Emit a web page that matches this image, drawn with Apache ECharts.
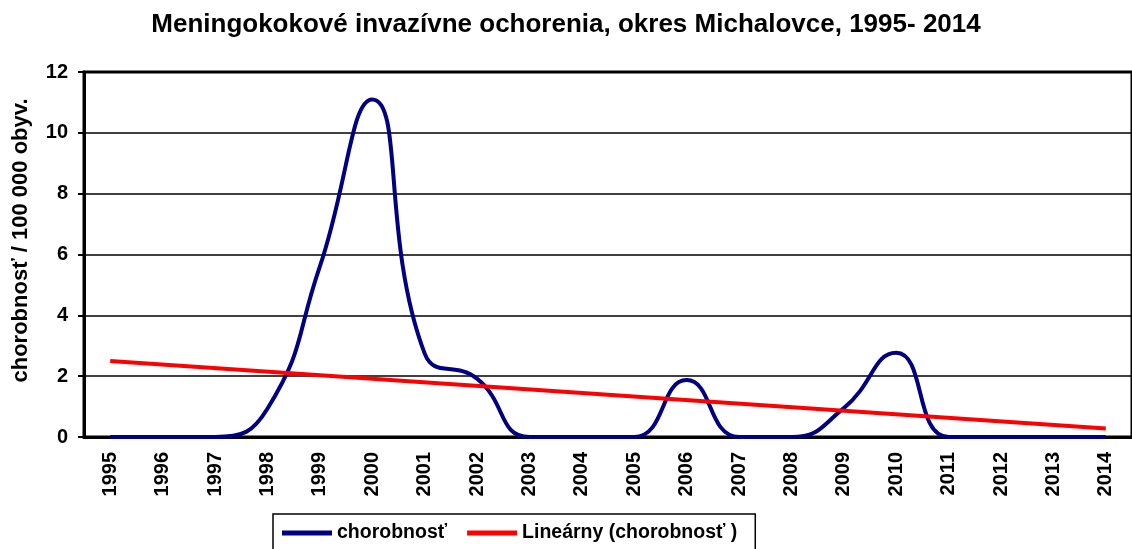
<!DOCTYPE html>
<html>
<head>
<meta charset="utf-8">
<script src="https://cdn.jsdelivr.net/npm/echarts@6/dist/echarts.min.js"></script>
<style>
  html, body { margin: 0; padding: 0; background: #fff; }
  #chart { width: 1132px; height: 549px; }
</style>
</head>
<body>
<div id="chart"></div>
<script>
// roky a chorobnosť na 100 000 obyv.
const years = ['1995', '1996', '1997', '1998', '1999', '2000', '2001', '2002', '2003', '2004',
               '2005', '2006', '2007', '2008', '2009', '2010', '2011', '2012', '2013', '2014'];
const incidence = [0, 0, 0, 0.93, 5.6, 11.1, 2.75, 1.92, 0, 0,
                   0, 1.87, 0, 0, 0.95, 2.77, 0, 0, 0, 0];
// lineárny trend - koncové body odčítané z grafu
const trendStart = 2.5;
const trendEnd = 0.28;

const font = 'Liberation Sans, Arial, sans-serif';
const chart = echarts.init(document.getElementById('chart'));

const option = {
  animation: false,
  title: {
    text: 'Meningokokové invazívne ochorenia, okres Michalovce, 1995- 2014',
    left: 'center',
    top: 7,
    textStyle: { fontFamily: font, fontSize: 26, fontWeight: 'bold', color: '#000' }
  },
  grid: {
    left: 84, right: 0, top: 72, bottom: 112,
    show: true,
    borderColor: '#000',
    borderWidth: 3
  },
  legend: {
    top: 514,
    left: 273,
    padding: [9, 18, 30, 9],
    borderColor: '#000',
    borderWidth: 1.5,
    itemWidth: 50,
    itemHeight: 5,
    itemGap: 20,
    textStyle: { fontFamily: font, fontSize: 19.5, fontWeight: 'bold', color: '#000' },
    data: [
      { name: 'chorobnosť', icon: 'rect' },
      { name: 'Lineárny (chorobnosť )', icon: 'rect' }
    ]
  },
  xAxis: {
    type: 'category',
    data: years,
    boundaryGap: true,
    axisLine: { lineStyle: { color: '#000', width: 3 } },
    axisTick: { length: 6, lineStyle: { color: '#000', width: 2 } },
    axisLabel: {
      rotate: 90,
      margin: 15,
      interval: 0,
      fontFamily: font,
      fontSize: 20,
      fontWeight: 'bold',
      color: '#000'
    },
    splitLine: { show: false }
  },
  yAxis: {
    type: 'value',
    min: 0,
    max: 12,
    interval: 2,
    name: 'chorobnosť / 100 000 obyv.',
    nameLocation: 'middle',
    nameGap: 52,
    nameTextStyle: {
      fontFamily: font, fontSize: 22, fontWeight: 'bold', color: '#000',
      padding: [0, 0, 0, 28]
    },
    axisLine: { show: true, lineStyle: { color: '#000', width: 3 } },
    axisTick: { show: true, length: 6, lineStyle: { color: '#000', width: 2 } },
    axisLabel: {
      margin: 16,
      fontFamily: font,
      fontSize: 20,
      fontWeight: 'bold',
      color: '#000'
    },
    splitLine: { lineStyle: { color: '#000', width: 1.5 } }
  },
  series: [
    {
      name: 'chorobnosť',
      type: 'line',
      data: incidence,
      smooth: 0.5,
      showSymbol: false,
      itemStyle: { color: '#000080' },
      lineStyle: { color: '#000080', width: 4 }
    },
    {
      name: 'Lineárny (chorobnosť )',
      type: 'line',
      data: [[years[0], trendStart], [years[years.length - 1], trendEnd]],
      showSymbol: false,
      itemStyle: { color: '#ff0000' },
      lineStyle: { color: '#ff0000', width: 4 }
    }
  ]
};

chart.setOption(option);
</script>
</body>
</html>
